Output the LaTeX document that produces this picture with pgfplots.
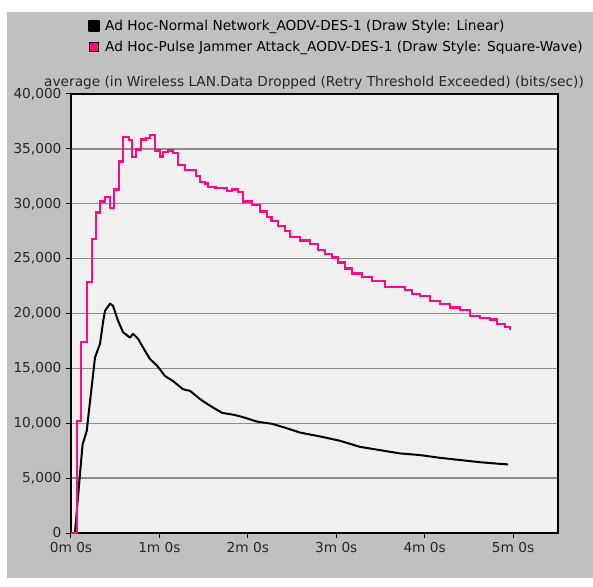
\documentclass[border=0pt]{standalone}
\usepackage{pgfplots}
\pgfplotsset{compat=1.18}
\usepackage{pgfplotstable}
\usepackage{fontspec}
\setmainfont{DejaVu Sans}
\definecolor{panelgray}{HTML}{C0C0C0}
\definecolor{plotbg}{HTML}{F0F0F0}
\definecolor{gridgray}{HTML}{8C8C8C}
\definecolor{jampink}{HTML}{FF0A82}

\pgfplotstableread{
t v
0 0
2.7 0
6.1 5400
7.9 8100
10.7 9300
12.9 12000
14.5 13850
16.3 16000
19.7 17250
21.9 19350
23.1 20250
26.5 20900
28.5 20700
31.9 19350
35.3 18300
40.0 17800
42.1 18150
45.5 17700
50.2 16600
53.6 15850
58.4 15250
63.8 14300
69.2 13850
76.0 13100
80.8 12950
87.6 12200
94.3 11600
102.5 10950
111.3 10750
118.1 10500
126.2 10150
136.4 9950
145.2 9600
155.4 9150
169.0 8800
182.6 8400
196.1 7850
209.7 7550
223.3 7250
236.9 7100
250.4 6850
264.0 6650
277.6 6450
291.2 6300
296.6 6250
}\normaldata

\pgfplotstableread{
t v
0 0
3.9 10200
7.0 17400
10.7 22900
14.0 26800
17.0 29200
19.7 30200
23.1 30600
26.5 29600
29.4 31300
32.6 33850
35.3 36100
39.4 35800
41.4 34250
44.1 34950
47.5 35850
50.9 36000
53.6 36300
57.0 34850
60.4 34300
62.4 34700
65.8 34850
69.2 34600
72.6 33500
77.4 33050
80.8 33100
84.8 32500
87.6 32000
90.9 31850
93.0 31550
98.0 31450
102.5 31400
105.9 31150
109.3 31300
113.3 31050
116.7 30200
122.8 29900
128.3 29300
133.0 28800
136.1 28450
140.5 28000
145.2 27550
148.6 26950
155.4 26650
162.2 26350
167.6 25800
172.4 25450
177.1 25100
181.2 24650
186.0 24100
190.7 23650
197.5 23350
204.3 22950
213.1 22450
219.9 22400
226.7 22150
231.4 21800
236.9 21600
243.7 21150
250.4 20900
257.2 20550
264.0 20350
270.8 19800
277.6 19600
284.4 19450
289.1 19050
294.6 18800
298.0 18600
298.6 18600
}\jammerdata

\begin{document}
\begin{tikzpicture}[x=1pt,y=1pt]
\useasboundingbox (-71,-53) rectangle (522,533);
\fill[white] (-71,-53) rectangle (522,533);
\fill[panelgray] (-64,-45) rectangle (522,521);
\begin{axis}[
  scale only axis, width=487pt, height=439pt,
  xmin=0, xmax=330.5, ymin=0, ymax=40000,
  xtick={0,60,120,180,240,300},
  xticklabels={0m 0s,1m 0s,2m 0s,3m 0s,4m 0s,5m 0s},
  ytick={0,5000,...,40000},
  scaled y ticks=false,
  /pgf/number format/assume math mode=true,
  /pgf/number format/1000 sep={,},
  tick label style={font=\fontsize{13.7}{15}\selectfont, text=black!85},
  xticklabel style={yshift=-1pt},
  yticklabel style={xshift=-1pt},
  xtick pos=bottom, ytick pos=left,
  tick align=outside, major tick length=5pt,
  tick style={black, line width=1pt},
  ymajorgrids, grid style={gridgray, line width=1.3pt},
  axis line style={black, line width=1.3pt},
  axis background/.style={fill=plotbg},
  legend style={at={(axis description cs:0.035,1.173)}, anchor=north west,
    draw=none, fill=none, inner sep=0pt, font=\fontsize{13.7}{15}\selectfont,
    row sep=5pt, cells={anchor=west},
    /tikz/every odd column/.append style={column sep=3pt}},
  legend cell align=left,
  clip=true,
]
\addplot[black, line width=2pt, line join=round,
  legend image code/.code={\fill[black] (0pt,-5pt) rectangle (10pt,5pt);}]
  table[x=t,y=v] {\normaldata};
\addlegendentry{Ad Hoc-Normal Network\_AODV-DES-1 (Draw Style: Linear)}
\addplot[jampink, line width=2.2pt, const plot mark left, line join=miter,
  legend image code/.code={\filldraw[draw=black,fill=jampink,line width=0.8pt] (0.4pt,-4.6pt) rectangle (9.6pt,4.6pt);}]
  table[x=t,y=v] {\jammerdata};
\addlegendentry{Ad Hoc-Pulse Jammer Attack\_AODV-DES-1 (Draw Style: Square-Wave)}
\end{axis}
\node[anchor=west, inner sep=0pt, font=\fontsize{13.7}{15}\selectfont, text=black!85] at (-27,450) {average (in Wireless LAN.Data Dropped (Retry Threshold Exceeded) (bits/sec))};
\end{tikzpicture}
\end{document}
